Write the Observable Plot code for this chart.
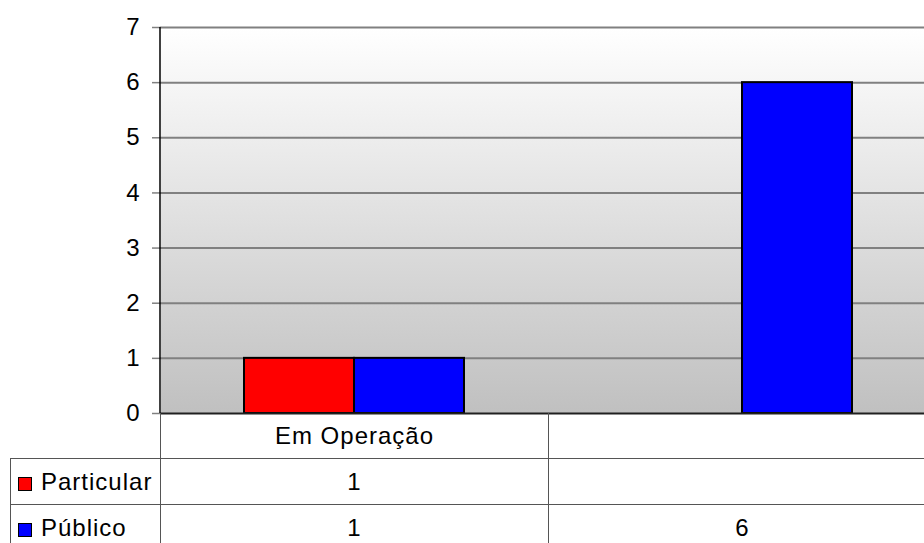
<!DOCTYPE html>
<html><head><meta charset="utf-8">
<script src="https://cdn.jsdelivr.net/npm/d3@7"></script>
<script src="https://cdn.jsdelivr.net/npm/@observablehq/plot@0.6"></script>
<style>
body{margin:0;background:#fff;}
#wrap{position:relative;width:924px;height:543px;overflow:hidden;font-family:"Liberation Sans",Arial,sans-serif;}
#wrap svg{position:absolute;left:0;top:0;max-width:none !important;}
table{position:absolute;border-collapse:collapse;table-layout:fixed;}
td{font-size:24px;letter-spacing:1px;text-align:center;border:1.5px solid #555;padding:0;color:#000;height:45px;line-height:24px;}
.sw{display:inline-block;width:12px;height:12px;border:1px solid #000;margin:0 9px 0 7px;vertical-align:-1px;}
</style></head><body><div id="wrap"></div>
<script>
const categories = ["Em Operação", ""];
const series = ["Particular", "Público"];
const particular = [1, null];
const publico = [1, 6];
const colors = ["#ff0000", "#0000ff"];
const yTicks = [0, 1, 2, 3, 4, 5, 6, 7];

const seriesValues = [particular, publico];
const rows = [];
categories.forEach((c, i) => series.forEach((s, j) => {
  const v = seriesValues[j][i];
  if (v != null) rows.push({category: c, series: s, value: v});
}));

const plot = Plot.plot({
  width: 936, height: 543,
  marginLeft: 160, marginRight: 0, marginTop: 27, marginBottom: 130,
  facet: {marginTop: 0, marginRight: 0, marginBottom: 0, marginLeft: 0},
  style: {fontFamily: "Liberation Sans, Arial, sans-serif", fontSize: "24px", background: "transparent", color: "#000"},
  fx: {domain: categories, padding: 0, axis: null, label: null},
  x: {domain: series, paddingInner: 0, paddingOuter: 0.75, axis: null, label: null},
  y: {domain: [0, 7], axis: null, label: null},
  color: {domain: series, range: colors},
  marks: [
    Plot.frame({fill: "url(#bg)", stroke: "none", shapeRendering: "crispEdges"}),
    Plot.ruleY(yTicks.slice(1), {stroke: "#808080", strokeWidth: 2}),
    Plot.barY(rows, {fx: "category", x: "series", y: "value", fill: "series", stroke: "#000", strokeWidth: 2}),
    Plot.ruleY([0], {stroke: "#202020", strokeWidth: 2}),
    Plot.axisY({ticks: yTicks, tickFormat: d3.format("d"), label: null, tickSize: 8, tickPadding: 13, stroke: "#808080", fill: "#000", fontSize: 24, strokeWidth: 1.5})
  ]
});
plot.style.maxWidth = "none";
plot.style.width = "936px";
plot.style.height = "543px";

const svg = d3.select(plot);
const defs = svg.insert("defs", ":first-child");
const g = defs.append("linearGradient").attr("id", "bg").attr("x1", 0).attr("y1", 0).attr("x2", 0).attr("y2", 1);
g.append("stop").attr("offset", "0%").attr("stop-color", "#ffffff");
g.append("stop").attr("offset", "100%").attr("stop-color", "#c0c0c0");

const yS = plot.scale("y");
const fxS = plot.scale("fx");
const left = 160;
svg.append("line").attr("x1", left).attr("x2", left)
  .attr("y1", yS.apply(7)).attr("y2", yS.apply(0))
  .attr("stroke", "#000").attr("stroke-width", 1.5);

const wrap = document.getElementById("wrap");
wrap.appendChild(plot);

// data table below the plot
const table = document.createElement("table");
const tableLeft = 10;
table.style.left = tableLeft + "px";
table.style.top = yS.apply(0) + "px";
const colgroup = document.createElement("colgroup");
[left - tableLeft, ...categories.map(() => fxS.bandwidth)].forEach(w => {
  const col = document.createElement("col");
  col.style.width = w + "px";
  colgroup.appendChild(col);
});
table.appendChild(colgroup);
table.style.width = (left - tableLeft + categories.length * fxS.bandwidth) + "px";

const head = document.createElement("tr");
const corner = document.createElement("td");
corner.style.borderLeft = "none"; corner.style.borderTop = "none";
head.appendChild(corner);
categories.forEach((c, i) => {
  const td = document.createElement("td");
  td.textContent = c;
  td.style.borderTop = "none";
  if (i === 0) td.style.borderLeft = "1.5px solid #000";
  head.appendChild(td);
});
table.appendChild(head);

series.forEach((s, j) => {
  const tr = document.createElement("tr");
  const th = document.createElement("td");
  th.style.textAlign = "left";
  th.style.borderLeft = "1.5px solid #555";
  const sw = document.createElement("span");
  sw.className = "sw"; sw.style.background = colors[j];
  th.appendChild(sw);
  th.appendChild(document.createTextNode(s));
  tr.appendChild(th);
  categories.forEach((c, i) => {
    const td = document.createElement("td");
    const v = seriesValues[j][i];
    td.textContent = v == null ? "" : v;
    if (i === 0) td.style.borderLeft = "1.5px solid #000";
    tr.appendChild(td);
  });
  table.appendChild(tr);
});
wrap.appendChild(table);
</script></body></html>
